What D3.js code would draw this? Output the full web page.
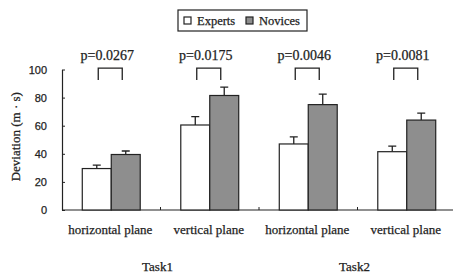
<!DOCTYPE html>
<html>
<head>
<meta charset="utf-8">
<script src="https://cdn.jsdelivr.net/npm/d3@7"></script>
<style>
  html, body { margin: 0; padding: 0; background: #fff; }
  svg { display: block; font-family: "Liberation Serif", "Times New Roman", serif; }
  svg text { stroke: #222; stroke-width: 0.25px; }
</style>
</head>
<body>
<div id="chart"></div>
<script>
const categories = ["horizontal plane", "vertical plane", "horizontal plane", "vertical plane"];
const tasks = ["Task1", "Task2"];
const seriesNames = ["Experts", "Novices"];
const expertMeans = [29.5, 60.5, 47, 41.5];
const expertErr = [2.5, 6, 5, 4];
const noviceMeans = [39.5, 81.5, 75, 64];
const noviceErr = [2.5, 6, 7.5, 5];
const pLabels = ["p=0.0267", "p=0.0175", "p=0.0046", "p=0.0081"];
const yTicks = [0, 20, 40, 60, 80, 100];

(function() {
    const width = 453, height = 273;
    const ink = "#222";

    const svg = d3.select("#chart").append("svg")
        .attr("width", width)
        .attr("height", height);

    const idx = categories.map((d, i) => i);
    const x = d3.scaleBand().domain(idx).range([62, 456]).paddingInner(0).paddingOuter(0);
    const xs = d3.scaleBand().domain(seriesNames).range([0, x.bandwidth()]).paddingInner(0).paddingOuter(0.7);
    const y = d3.scaleLinear().domain([0, 100]).range([210, 69.5]);
    const fill = d3.scaleOrdinal().domain(seriesNames).range(["#ffffff", "#8e8e8e"]);

    // y axis, ticks pointing inward
    const yAxis = svg.append("g")
        .attr("transform", "translate(62,0)")
        .call(d3.axisRight(y).tickValues(yTicks).tickSize(3).tickSizeOuter(0));
    yAxis.select(".domain").attr("stroke", ink).attr("stroke-width", 1.2);
    yAxis.selectAll(".tick line").attr("stroke", ink);
    yAxis.selectAll(".tick text")
        .attr("x", -15)
        .attr("text-anchor", "end")
        .style("font-family", "inherit")
        .style("font-size", "11px")
        .attr("fill", ink);

    svg.append("text")
        .attr("transform", `translate(20,${(y(0) + y(100)) / 2 - 3}) rotate(-90)`)
        .attr("text-anchor", "middle")
        .style("font-size", "13px")
        .attr("fill", ink)
        .text("Deviation (m · s)");

    // x axis baseline with small separators
    svg.append("line")
        .attr("x1", 62).attr("x2", width)
        .attr("y1", y(0)).attr("y2", y(0))
        .attr("stroke", ink).attr("stroke-width", 1.2);
    svg.selectAll(".sep")
        .data(idx.slice(1))
        .enter().append("line")
        .attr("x1", d => x(d)).attr("x2", d => x(d))
        .attr("y1", y(0)).attr("y2", y(0) - 3)
        .attr("stroke", ink);

    const rows = idx.map(i => [
        {name: "Experts", value: expertMeans[i], err: expertErr[i]},
        {name: "Novices", value: noviceMeans[i], err: noviceErr[i]}
    ]);

    const groups = svg.selectAll(".grp")
        .data(idx)
        .enter().append("g")
        .attr("transform", d => `translate(${x(d)},0)`);

    // error bars (upward only)
    groups.selectAll(".err")
        .data(d => rows[d])
        .enter().append("path")
        .attr("d", d => {
            const cx = xs(d.name) + xs.bandwidth() / 2;
            const top = y(d.value + d.err);
            return `M${cx},${y(d.value)}V${top}M${cx - 4},${top}H${cx + 4}`;
        })
        .attr("fill", "none")
        .attr("stroke", ink)
        .attr("stroke-width", 1.3);

    groups.selectAll("rect")
        .data(d => rows[d])
        .enter().append("rect")
        .attr("x", d => xs(d.name))
        .attr("y", d => y(d.value))
        .attr("width", xs.bandwidth())
        .attr("height", d => y(0) - y(d.value))
        .attr("fill", d => fill(d.name))
        .attr("stroke", ink)
        .attr("stroke-width", 1.2);

    // significance brackets
    groups.append("path")
        .attr("d", () => {
            const c = x.bandwidth() / 2 - 1;
            return `M${c - 12},${y(92.5)}V${y(101)}H${c + 12}V${y(92.5)}`;
        })
        .attr("fill", "none")
        .attr("stroke", ink)
        .attr("stroke-width", 1.3);

    groups.append("text")
        .attr("x", x.bandwidth() / 2 - 4)
        .attr("y", 60)
        .attr("text-anchor", "middle")
        .style("font-size", "14px")
        .attr("fill", ink)
        .text(d => pLabels[d]);

    // category labels
    groups.append("text")
        .attr("x", x.bandwidth() / 2 - 1)
        .attr("y", 234)
        .attr("text-anchor", "middle")
        .style("font-size", "13px")
        .attr("fill", ink)
        .text(d => categories[d]);

    // task labels
    svg.selectAll(".task")
        .data(tasks)
        .enter().append("text")
        .attr("x", (d, i) => x(i * 2 + 1) - 3)
        .attr("y", 271)
        .attr("text-anchor", "middle")
        .style("font-size", "13px")
        .attr("fill", ink)
        .text(d => d);

    // legend
    const legend = svg.append("g").attr("transform", "translate(178,10)");
    legend.append("rect")
        .attr("width", 129).attr("height", 21)
        .attr("fill", "#fff").attr("stroke", ink).attr("stroke-width", 1.2);
    const items = legend.selectAll(".item")
        .data(seriesNames)
        .enter().append("g")
        .attr("transform", (d, i) => `translate(${6 + i * 62},0)`);
    items.append("rect")
        .attr("x", 0).attr("y", 7)
        .attr("width", 7).attr("height", 7)
        .attr("fill", d => fill(d))
        .attr("stroke", ink).attr("stroke-width", 1.2);
    items.append("text")
        .attr("x", 13).attr("y", 15)
        .style("font-size", "12.5px")
        .attr("fill", ink)
        .text(d => d);
})();
</script>
</body>
</html>
